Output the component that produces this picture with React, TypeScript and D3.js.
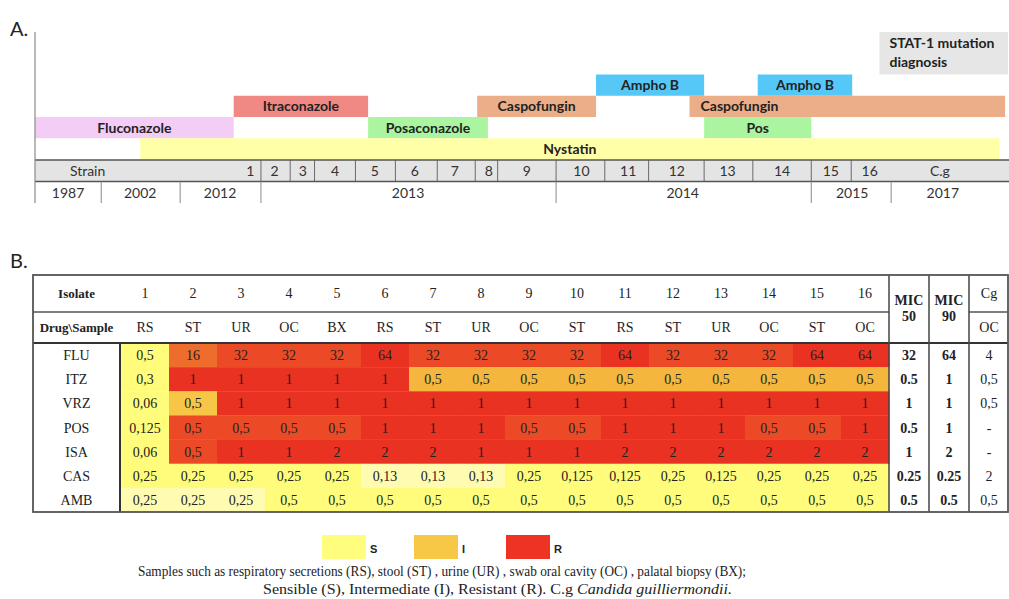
import React from "react";
import * as d3 from "d3";

// ---------- Panel A data (timeline in abstract units 0..100) ----------
const treatmentNames = ["Fluconazole", "Itraconazole", "Posaconazole", "Caspofungin", "Ampho B", "Ampho B", "Caspofungin", "Pos", "Nystatin"];
const treatmentDrug = ["FLC", "ITC", "POS", "CAS", "AMB", "AMB", "CAS", "POS", "NYS"];
const treatmentStart = [0, 20.4, 34.2, 45.4, 57.6, 74.2, 67.2, 68.7, 10.8];
const treatmentEnd = [20.4, 34.2, 46.5, 57.6, 68.7, 83.9, 99.6, 79.7, 99.0];
const treatmentLane = [4, 3, 4, 3, 2, 2, 3, 4, 5];
const treatmentLabelAtStart = [false, false, false, false, false, false, true, false, false];

const statusText = ["STAT-1 mutation", "diagnosis"];
const statusStart = 86.7;
const statusEnd = 99.9;

const strainLabels = ["Strain", "1", "2", "3", "4", "5", "6", "7", "8", "9", "10", "11", "12", "13", "14", "15", "16", "C.g"];
const strainTimes = [5.4, 22.1, 24.6, 27.5, 30.8, 34.9, 39.0, 43.1, 46.6, 50.5, 56.1, 60.9, 65.9, 71.1, 76.7, 81.7, 85.7, 92.9];
const strainDividers = [23.2, 26.2, 28.7, 32.9, 37.0, 41.3, 45.2, 47.5, 53.5, 58.5, 63.0, 68.7, 73.7, 79.7, 83.8];

const yearLabels = ["1987", "2002", "2012", "2013", "2014", "2015", "2017"];
const yearTimes = [3.4, 10.8, 19.0, 38.3, 66.5, 83.9, 93.2];
const yearDividers = [6.8, 14.9, 23.2, 53.5, 79.7, 87.9];

// ---------- Panel B data ----------
const isolates = ["1", "2", "3", "4", "5", "6", "7", "8", "9", "10", "11", "12", "13", "14", "15", "16"];
const samples = ["RS", "ST", "UR", "OC", "BX", "RS", "ST", "UR", "OC", "ST", "RS", "ST", "UR", "OC", "ST", "OC"];
const drugs = ["FLU", "ITZ", "VRZ", "POS", "ISA", "CAS", "AMB"];

const fluMIC = ["0,5", "16", "32", "32", "32", "64", "32", "32", "32", "32", "64", "32", "32", "32", "64", "64"];
const itzMIC = ["0,3", "1", "1", "1", "1", "1", "0,5", "0,5", "0,5", "0,5", "0,5", "0,5", "0,5", "0,5", "0,5", "0,5"];
const vrzMIC = ["0,06", "0,5", "1", "1", "1", "1", "1", "1", "1", "1", "1", "1", "1", "1", "1", "1"];
const posMIC = ["0,125", "0,5", "0,5", "0,5", "0,5", "1", "1", "1", "0,5", "0,5", "1", "1", "1", "0,5", "0,5", "1"];
const isaMIC = ["0,06", "0,5", "1", "1", "2", "2", "2", "1", "1", "1", "2", "2", "2", "2", "2", "2"];
const casMIC = ["0,25", "0,25", "0,25", "0,25", "0,25", "0,13", "0,13", "0,13", "0,25", "0,125", "0,125", "0,25", "0,125", "0,25", "0,25", "0,25"];
const ambMIC = ["0,25", "0,25", "0,25", "0,5", "0,5", "0,5", "0,5", "0,5", "0,5", "0,5", "0,5", "0,5", "0,5", "0,5", "0,5", "0,5"];

// susceptibility shade per cell: P pale S, S sensible, J/I intermediate, O/H/R resistant shades
const fluLevel = "SOHHHRHHHHRHHHRR";
const itzLevel = "SRRRRRIIIIIIIIII";
const vrzLevel = "SJRRRRRRRRRRRRRR";
const posLevel = "SHHHHRRRHHRRRHHR";
const isaLevel = "SHRRRRRRRRRRRRRR";
const casLevel = "SSSSSPPPSSSSSSSS";
const ambLevel = "PPPSSSSSSSSSSSSS";

const mic50 = ["32", "0.5", "1", "0.5", "1", "0.25", "0.5"];
const mic90 = ["64", "1", "1", "1", "2", "0.25", "0.5"];
const cgMIC = ["4", "0,5", "0,5", "-", "-", "2", "0,5"];

const legendKeys = ["S", "I", "R"];

const footLine1 = "Samples such as respiratory secretions (RS), stool (ST) , urine (UR) , swab oral cavity (OC) , palatal biopsy (BX);";
const footLine2a = "Sensible (S), Intermediate (I), Resistant (R). C.g ";
const footLine2b = "Candida guilliermondii.";

// ---------- styles ----------
const drugColor: Record<string, string> = {
  FLC: "#f4cdf7",
  ITC: "#f08884",
  POS: "#abf5a1",
  CAS: "#ebae88",
  AMB: "#56c8f7",
  NYS: "#ffffa8",
};
const levelColor: Record<string, string> = {
  P: "#fffcb2",
  S: "#fffc7c",
  J: "#f7c646",
  I: "#f4b63c",
  O: "#ee6c2c",
  H: "#ec4a27",
  R: "#e93222",
};
const legendColor: Record<string, string> = { S: "#fffd7e", I: "#f7c846", R: "#ee3324" };

const SANS = "Lato, sans-serif";
const SERIF = "Liberation Serif, Times New Roman, DejaVu Serif, serif";
const sansStyle = { fontFamily: SANS };
const serifStyle = { fontFamily: SERIF };

export default function App() {
  const W = 1009;
  const H = 599;

  // Panel A scales
  const xT = d3.scaleLinear().domain([0, 100]).range([35, 1009]);
  const lane = d3.scaleBand<number>().domain([0, 1, 2, 3, 4, 5]).range([32, 159.5]).paddingInner(0);
  const strainTop = 160;
  const strainBot = 181.5;
  const yearBot = 203;

  // Panel B scales
  const tLeft = 33, tRight = 1008, tTop = 275, hMid = 312, hBot = 343, tBottom = 512;
  const labelRight = 120;
  const xIso = d3.scaleBand<string>().domain(isolates).range([121, 889]).paddingInner(0);
  const xExtra = d3.scaleBand<string>().domain(["MIC50", "MIC90", "Cg"]).range([889, 1009]);
  const yDrug = d3.scaleBand<string>().domain(drugs).range([hBot, tBottom]);
  const rowVals = [fluMIC, itzMIC, vrzMIC, posMIC, isaMIC, casMIC, ambMIC];
  const rowLevels = [fluLevel, itzLevel, vrzLevel, posLevel, isaLevel, casLevel, ambLevel];
  const labelCx = (tLeft + labelRight) / 2;

  const legendX = d3.scalePoint<string>().domain(legendKeys).range([322, 506]);

  return (
    <svg width={W} height={H} style={{ position: "absolute", left: 0, top: 0, display: "block", background: "#fff" }}>
      {/* ================= Panel A ================= */}
      <g style={sansStyle}>
        <text x={10} y={36} fontSize={20} fill="#222">A.</text>

        {/* status box */}
        <rect x={xT(statusStart)} y={lane(0)!} width={xT(statusEnd) - xT(statusStart)} height={lane(2)! - lane(0)!} fill="#e6e6e6" />
        {statusText.map((t, i) => (
          <text key={t} x={xT(statusStart) + 10} y={lane(0)! + 16 + i * 19} fontWeight={700} fontSize={14} fill="#222">{t}</text>
        ))}

        {/* treatment bars */}
        {treatmentNames.map((name, i) => {
          const x0 = xT(treatmentStart[i]);
          const x1 = xT(treatmentEnd[i]);
          const y0 = lane(treatmentLane[i])!;
          const h = lane.bandwidth();
          const atStart = treatmentLabelAtStart[i];
          return (
            <g key={i}>
              <rect x={x0} y={y0} width={x1 - x0} height={h} fill={drugColor[treatmentDrug[i]]} />
              <text
                x={atStart ? x0 + 11 : (x0 + x1) / 2}
                y={y0 + h / 2 + 5}
                textAnchor={atStart ? "start" : "middle"}
                fontWeight={700}
                fontSize={14}
                fill="#222"
              >{name}</text>
            </g>
          );
        })}

        {/* strain row */}
        <rect x={xT(0)} y={strainTop} width={xT(100) - xT(0)} height={strainBot - strainTop} fill="#e4e4e4" />
        {strainDividers.map((d, i) => (
          <line key={i} x1={xT(d)} x2={xT(d)} y1={strainTop} y2={strainBot} stroke="#6a6a6a" strokeWidth={1} />
        ))}
        <line x1={xT(0)} x2={xT(100)} y1={strainTop} y2={strainTop} stroke="#555" strokeWidth={1.5} />
        <line x1={xT(0)} x2={xT(100)} y1={strainBot} y2={strainBot} stroke="#555" strokeWidth={1.5} />
        {strainLabels.map((s, i) => (
          <text key={s} x={xT(strainTimes[i])} y={strainTop + 16} textAnchor="middle" fontSize={14} fill="#333">{s}</text>
        ))}

        {/* year row */}
        {yearDividers.map((d, i) => (
          <line key={i} x1={xT(d)} x2={xT(d)} y1={strainBot} y2={yearBot} stroke="#8a8a8a" strokeWidth={1} />
        ))}
        {yearLabels.map((s, i) => (
          <text key={s} x={xT(yearTimes[i])} y={strainBot + 16} textAnchor="middle" fontSize={14} fill="#333">{s}</text>
        ))}

        {/* vertical axis */}
        <line x1={xT(0)} x2={xT(0)} y1={32} y2={yearBot} stroke="#8a8a8a" strokeWidth={1.2} />

        <text x={10} y={268} fontSize={20} fill="#222">B.</text>
      </g>

      {/* ================= Panel B ================= */}
      <g style={serifStyle}>
        {/* heat cells */}
        {drugs.map((dr, r) =>
          isolates.map((iso, c) => (
            <rect
              key={dr + iso}
              x={xIso(iso)!}
              y={yDrug(dr)!}
              width={xIso.bandwidth() + 0.5}
              height={yDrug.bandwidth() + 0.3}
              fill={levelColor[rowLevels[r][c]]}
            />
          ))
        )}
        {drugs.map((dr, r) =>
          isolates.map((iso, c) => (
            <text
              key={"t" + dr + iso}
              x={xIso(iso)! + xIso.bandwidth() / 2}
              y={yDrug(dr)! + yDrug.bandwidth() / 2 + 5}
              textAnchor="middle"
              fontSize={14}
              fill="#222"
            >{rowVals[r][c]}</text>
          ))
        )}

        {/* row labels */}
        {drugs.map((dr) => (
          <text key={dr} x={labelCx} y={yDrug(dr)! + yDrug.bandwidth() / 2 + 5} textAnchor="middle" fontSize={14} fill="#222">{dr}</text>
        ))}

        {/* MIC50 / MIC90 / Cg values */}
        {drugs.map((dr, r) => (
          <g key={"x" + dr}>
            <text x={xExtra("MIC50")! + xExtra.bandwidth() / 2} y={yDrug(dr)! + yDrug.bandwidth() / 2 + 5} textAnchor="middle" fontWeight={700} fontSize={14} fill="#222">{mic50[r]}</text>
            <text x={xExtra("MIC90")! + xExtra.bandwidth() / 2} y={yDrug(dr)! + yDrug.bandwidth() / 2 + 5} textAnchor="middle" fontWeight={700} fontSize={14} fill="#222">{mic90[r]}</text>
            <text x={xExtra("Cg")! + xExtra.bandwidth() / 2} y={yDrug(dr)! + yDrug.bandwidth() / 2 + 5} textAnchor="middle" fontSize={14} fill="#222">{cgMIC[r]}</text>
          </g>
        ))}

        {/* header texts */}
        <text x={labelCx} y={298} textAnchor="middle" fontWeight={700} fontSize={13} fill="#222">Isolate</text>
        <text x={labelCx} y={332} textAnchor="middle" fontWeight={700} fontSize={13} fill="#222">{"Drug\\Sample"}</text>
        {isolates.map((iso, i) => (
          <g key={"h" + iso}>
            <text x={xIso(iso)! + xIso.bandwidth() / 2} y={298} textAnchor="middle" fontSize={14} fill="#222">{iso}</text>
            <text x={xIso(iso)! + xIso.bandwidth() / 2} y={332} textAnchor="middle" fontSize={14} fill="#222">{samples[i]}</text>
          </g>
        ))}
        {["MIC50", "MIC90"].map((k) => (
          <g key={k}>
            <text x={xExtra(k)! + xExtra.bandwidth() / 2} y={305} textAnchor="middle" fontWeight={700} fontSize={14} fill="#222">MIC</text>
            <text x={xExtra(k)! + xExtra.bandwidth() / 2} y={321} textAnchor="middle" fontWeight={700} fontSize={14} fill="#222">{k.slice(3)}</text>
          </g>
        ))}
        <text x={xExtra("Cg")! + xExtra.bandwidth() / 2} y={298} textAnchor="middle" fontSize={14} fill="#222">Cg</text>
        <text x={xExtra("Cg")! + xExtra.bandwidth() / 2} y={332} textAnchor="middle" fontSize={14} fill="#222">OC</text>

        {/* table lines */}
        <line x1={tLeft} x2={xExtra("MIC50")!} y1={hMid} y2={hMid} stroke="#555" strokeWidth={1.5} />
        <line x1={xExtra("Cg")!} x2={tRight} y1={hMid} y2={hMid} stroke="#555" strokeWidth={1.5} />
        <line x1={tLeft} x2={tRight} y1={hBot} y2={hBot} stroke="#333" strokeWidth={2} />
        <line x1={labelRight} x2={labelRight} y1={hBot} y2={tBottom} stroke="#333" strokeWidth={2} />
        {["MIC50", "MIC90", "Cg"].map((k) => (
          <line key={"v" + k} x1={xExtra(k)!} x2={xExtra(k)!} y1={tTop} y2={tBottom} stroke="#444" strokeWidth={1.5} />
        ))}
        <rect x={tLeft} y={tTop} width={tRight - tLeft} height={tBottom - tTop} fill="none" stroke="#555" strokeWidth={1.8} />

        {/* legend */}
        {legendKeys.map((k) => (
          <g key={"lg" + k}>
            <rect x={legendX(k)!} y={535} width={44} height={24} fill={legendColor[k]} />
            <text x={legendX(k)! + 48} y={553} style={{ fontFamily: "Liberation Sans, Arial, sans-serif" }} fontWeight={700} fontSize={11} fill="#222">{k}</text>
          </g>
        ))}

        {/* footnote */}
        <text x={138} y={576} fontSize={14} fill="#222" textLength={608} lengthAdjust="spacingAndGlyphs">{footLine1}</text>
        <text x={263} y={594} fontSize={15} fill="#222" textLength={469} lengthAdjust="spacingAndGlyphs">
          {footLine2a}
          <tspan fontStyle="italic">{footLine2b}</tspan>
        </text>
      </g>
    </svg>
  );
}
